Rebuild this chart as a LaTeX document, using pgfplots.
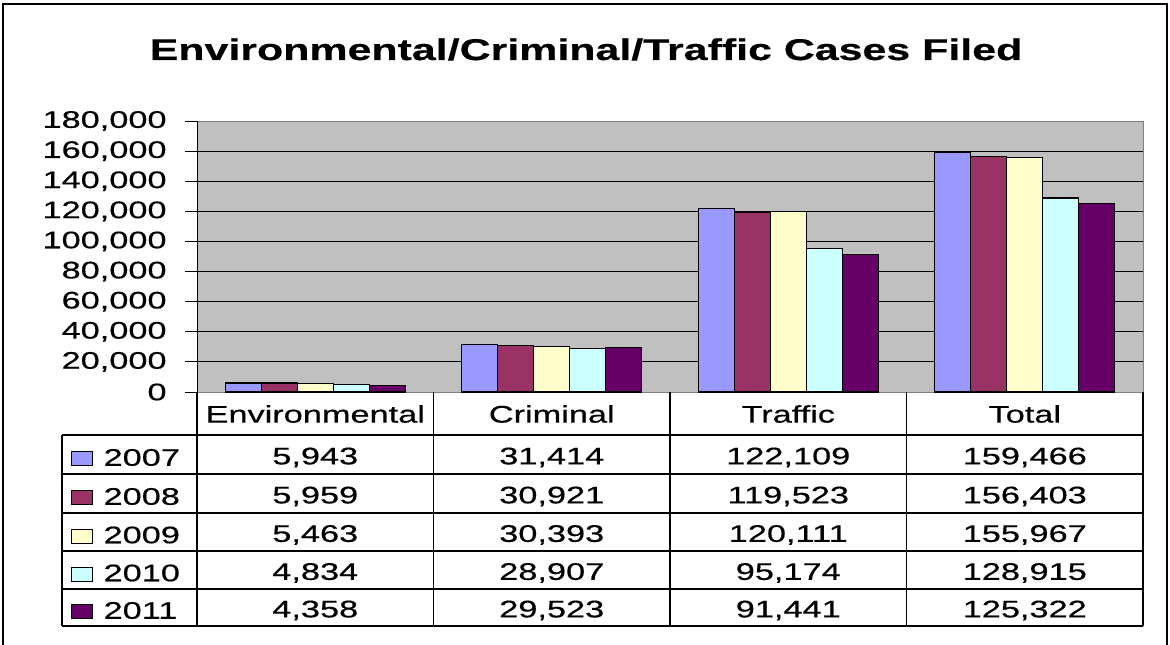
\documentclass[border=0pt]{standalone}
\usepackage{fontspec}
\setmainfont{Liberation Sans}[FakeStretch=1.43, FakeBold=0.5]
\usepackage{pgfplots}
\usepackage{pgfplotstable}
\pgfplotsset{compat=1.18}

\definecolor{c2007}{HTML}{9999FF}
\definecolor{c2008}{HTML}{993366}
\definecolor{c2009}{HTML}{FFFFCC}
\definecolor{c2010}{HTML}{CCFFFF}
\definecolor{c2011}{HTML}{660066}
\definecolor{plotbg}{HTML}{C0C0C0}

% cases filed per category (rows) and year (columns)
\pgfplotstableread{
cat y2007  y2008  y2009  y2010  y2011
0   5943   5959   5463   4834   4358
1   31414  30921  30393  28907  29523
2   122109 119523 120111 95174  91441
3   159466 156403 155967 128915 125322
}\casedata

\begin{document}
\begin{tikzpicture}
\useasboundingbox (0,0) rectangle (585pt,322pt);
\draw[line width=1pt] (1.5pt,-2pt) -- (1.5pt,320pt) -- (583.5pt,320pt) -- (583.5pt,-2pt);
\node[font=\bfseries\fontsize{15}{18}\selectfont, anchor=base] at (293pt,292pt)
  {Environmental/Criminal/Traffic Cases Filed};

\begin{axis}[
  at={(98.5pt,126pt)}, anchor=south west,
  scale only axis, width=473pt, height=135.5pt,
  ybar=0pt, bar width=18pt,
  xmin=-0.5, xmax=3.5, xtick=\empty,
  ymin=0, ymax=180000, ytick={0,20000,...,180000},
  scaled y ticks=false,
  ytick pos=left, tick align=outside, major tick length=6pt,
  tick style={black, line width=0.5pt},
  ymajorgrids, grid style={black, line width=0.5pt},
  axis background/.style={fill=plotbg},
  axis line style={draw=black!50, line width=0.5pt},
  tick label style={font=\fontsize{12}{14}\selectfont},
  yticklabel style={inner sep=0pt, xshift=-9pt},
  /pgf/number format/fixed,
  /pgf/number format/1000 sep={,},
  /pgf/number format/assume math mode=true,
  every axis plot/.append style={draw=black, line width=0.6pt},
]
\addplot[fill=c2007] table[x=cat, y=y2007] {\casedata};
\addplot[fill=c2008] table[x=cat, y=y2008] {\casedata};
\addplot[fill=c2009] table[x=cat, y=y2009] {\casedata};
\addplot[fill=c2010] table[x=cat, y=y2010] {\casedata};
\addplot[fill=c2011] table[x=cat, y=y2011] {\casedata};
\draw[black, line width=0.6pt] (rel axis cs:0,0) -- (rel axis cs:0,1);
\end{axis}

% data table under the plot, in pixel units of the reference
\begin{scope}[x=0.5pt, y=-0.5pt, shift={(0pt,322pt)}, line width=0.6pt,
  every node/.style={font=\fontsize{12}{14}\selectfont}]
  \foreach \X in {197,433.5,670,906.5,1143} \draw (\X,392) -- (\X,626);
  \draw (62,435) -- (62,626);
  \foreach \Y in {435,474,513,551,589,626} \draw (62,\Y) -- (1143,\Y);
  \foreach \name [count=\i from 0] in {Environmental,Criminal,Traffic,Total}
    \node at ({315.25+236.5*\i},414) {\name};
  \foreach \yr/\Y in {2007/457.5,2008/496.5,2009/535,2010/573,2011/610.5} {
    \filldraw[fill=c\yr, draw=black, line width=0.5pt] (71,\Y-6) rectangle (92,\Y+8);
    \node[anchor=west, inner sep=0pt] at (103,\Y) {\yr};
    \foreach \i in {0,...,3} {
      \pgfplotstablegetelem{\i}{y\yr}\of\casedata
      \node at ({315.25+236.5*\i},\Y)
        {\pgfmathprintnumber[fixed, 1000 sep={,}, assume math mode=true]{\pgfplotsretval}};
    }
  }
\end{scope}
\end{tikzpicture}
\end{document}
